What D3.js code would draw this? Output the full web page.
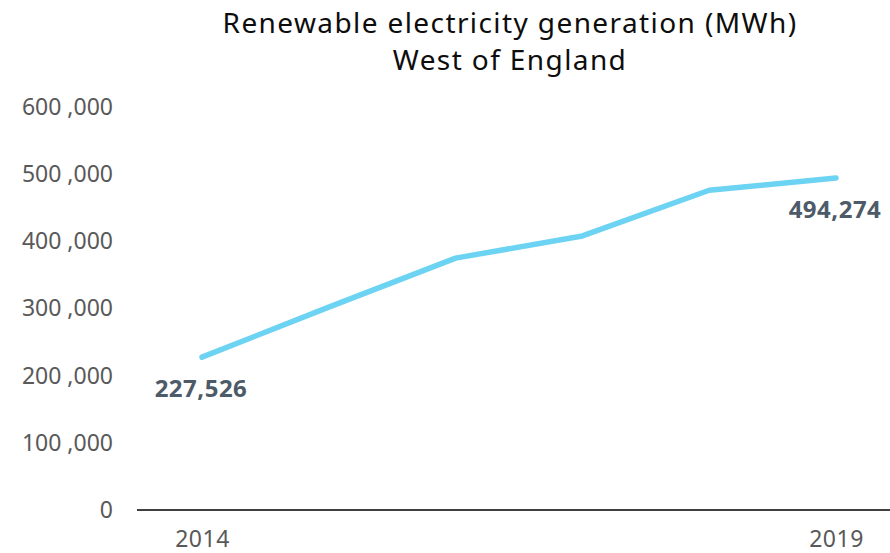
<!DOCTYPE html>
<html>
<head>
<meta charset="utf-8">
<script src="https://cdn.jsdelivr.net/npm/d3@7"></script>
<style>
  body { margin: 0; background: #fff; }
  svg { font-family: "Noto Sans", sans-serif; }
</style>
</head>
<body>
<svg></svg>
<script>
const years = [2014, 2015, 2016, 2017, 2018, 2019];
const generation = [227526, 302000, 375000, 408000, 476000, 494274];
const yTicks = [0, 100000, 200000, 300000, 400000, 500000, 600000];
const xTickLabels = [2014, 2019];
const titleLines = ["Renewable electricity generation (MWh)", "West of England"];

const svgWidth = 890;
const svgHeight = 553;

const svg = d3.select("svg")
    .attr("width", svgWidth)
    .attr("height", svgHeight);

// scales
const xScale = d3.scalePoint()
    .domain(years)
    .range([202, 836]);

const yScale = d3.scaleLinear()
    .domain([0, 600000])
    .range([510, 107]);

const fmt = d3.format(",");

// title
svg.append("g")
    .selectAll("text")
    .data(titleLines)
    .enter()
    .append("text")
    .attr("x", 510)
    .attr("y", (d, i) => 33 + i * 37)
    .attr("text-anchor", "middle")
    .attr("font-size", 28)
    .attr("letter-spacing", 1.4)
    .attr("fill", "#0d0d0d")
    .text(d => d);

// y axis (labels only)
const yAxis = d3.axisLeft(yScale)
    .tickValues(yTicks)
    .tickSize(0)
    .tickPadding(0)
    .tickFormat(d => d === 0 ? "0" : fmt(d).replace(",", " ,"));

svg.append("g")
    .attr("transform", "translate(113, 0)")
    .call(yAxis)
    .call(g => g.select(".domain").remove())
    .selectAll("text")
    .attr("font-size", 23)
    .attr("font-family", "Noto Sans, sans-serif")
    .attr("fill", "#595959");

// x axis line
svg.append("line")
    .attr("x1", 137)
    .attr("x2", 890)
    .attr("y1", yScale(0))
    .attr("y2", yScale(0))
    .attr("stroke", "#000")
    .attr("stroke-width", 1.5);

// x tick labels (first and last only)
const xAxis = d3.axisBottom(xScale)
    .tickValues(xTickLabels)
    .tickSize(0)
    .tickPadding(21)
    .tickFormat(d3.format("d"));

svg.append("g")
    .attr("transform", `translate(0, ${yScale(0)})`)
    .call(xAxis)
    .call(g => g.select(".domain").remove())
    .selectAll("text")
    .attr("font-size", 23)
    .attr("letter-spacing", 0.5)
    .attr("font-family", "Noto Sans, sans-serif")
    .attr("fill", "#595959");

// line
const line = d3.line()
    .x((d, i) => xScale(years[i]))
    .y(d => yScale(d));

svg.append("path")
    .datum(generation)
    .attr("d", line)
    .attr("fill", "none")
    .attr("stroke", "#6dd3f3")
    .attr("stroke-width", 5.5)
    .attr("stroke-linecap", "round")
    .attr("stroke-linejoin", "round");

// end labels
const last = generation.length - 1;
const labels = [
    {i: 0, dy: 40},
    {i: last, dy: 40}
];

svg.selectAll(".val")
    .data(labels)
    .enter()
    .append("text")
    .attr("class", "val")
    .attr("x", d => xScale(years[d.i]) - 1)
    .attr("y", d => yScale(generation[d.i]) + d.dy)
    .attr("text-anchor", "middle")
    .attr("font-size", 24)
    .attr("letter-spacing", 0.5)
    .attr("font-weight", "bold")
    .attr("fill", "#4d5b69")
    .text(d => fmt(generation[d.i]));
</script>
</body>
</html>
